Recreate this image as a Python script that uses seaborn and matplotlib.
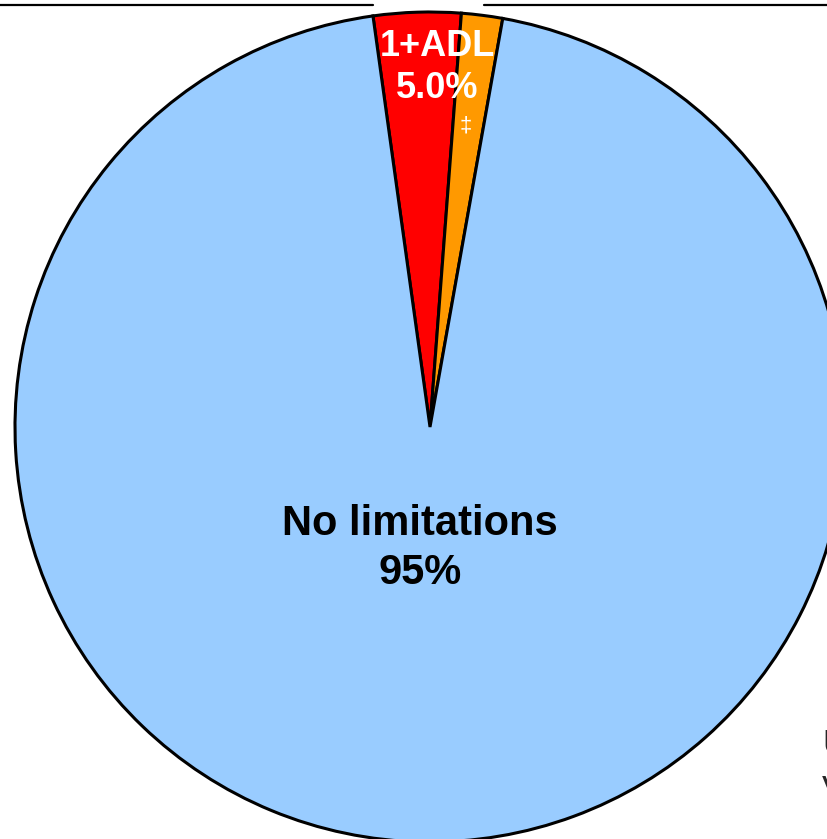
import matplotlib
matplotlib.use("Agg")
from matplotlib import pyplot as plt
from matplotlib.lines import Line2D
import seaborn as sns

# slices, clockwise from the top
slice_names = ["1+ADL", "IADL only", "No limitations"]
slice_values = [3.4, 1.6, 95.0]
slice_colors = ["#FF0000", "#FF9900", "#99CCFF"]

adl_label = "1+ADL\n5.0%"
iadl_label = "\u2021"
none_label = "No limitations\n95%"
side_text = ["U", "V"]

sns.set_theme(style="white")
plt.rcParams['font.family'] = ['Liberation Sans', 'DejaVu Sans']

fig = plt.figure(figsize=(8.28, 8.39), dpi=100)
ax = fig.add_axes([0, 0, 1, 1])

wedges, _ = ax.pie(slice_values, colors=slice_colors, startangle=97.9,
                   counterclock=False,
                   wedgeprops=dict(edgecolor="black", linewidth=2.2))

# place the pie like the original (clipped on right and bottom)
r_px = 415
ax.set_xlim(-430 / r_px, (828 - 430) / r_px)
ax.set_ylim(-(839 - 427) / r_px, 427 / r_px)
ax.set_aspect("auto")
ax.axis("off")

ax.text(0.017, 0.866, adl_label, ha="center", va="center", color="white",
        fontsize=26, fontweight="bold", linespacing=1.25)
ax.text(0.085, 0.725, iadl_label, ha="center", va="center", color="white",
        fontsize=16)
ax.text(-0.024, -0.293, none_label, ha="center", va="center", color="black",
        fontsize=30, fontweight="bold", linespacing=1.27)

# text cut off at the right edge
fig.text(822 / 828, 1 - 745 / 839, side_text[0], ha="left", va="center",
         fontsize=25)
fig.text(822 / 828, 1 - 790 / 839, side_text[1], ha="left", va="center",
         fontsize=25)

# rule along the top, broken behind the label
y_rule = 1 - 5 / 839
fig.add_artist(Line2D([0, 373 / 828], [y_rule, y_rule], color="black", lw=1.6))
fig.add_artist(Line2D([484 / 828, 1], [y_rule, y_rule], color="black", lw=1.6))

fig.savefig("out.png", dpi=100)
